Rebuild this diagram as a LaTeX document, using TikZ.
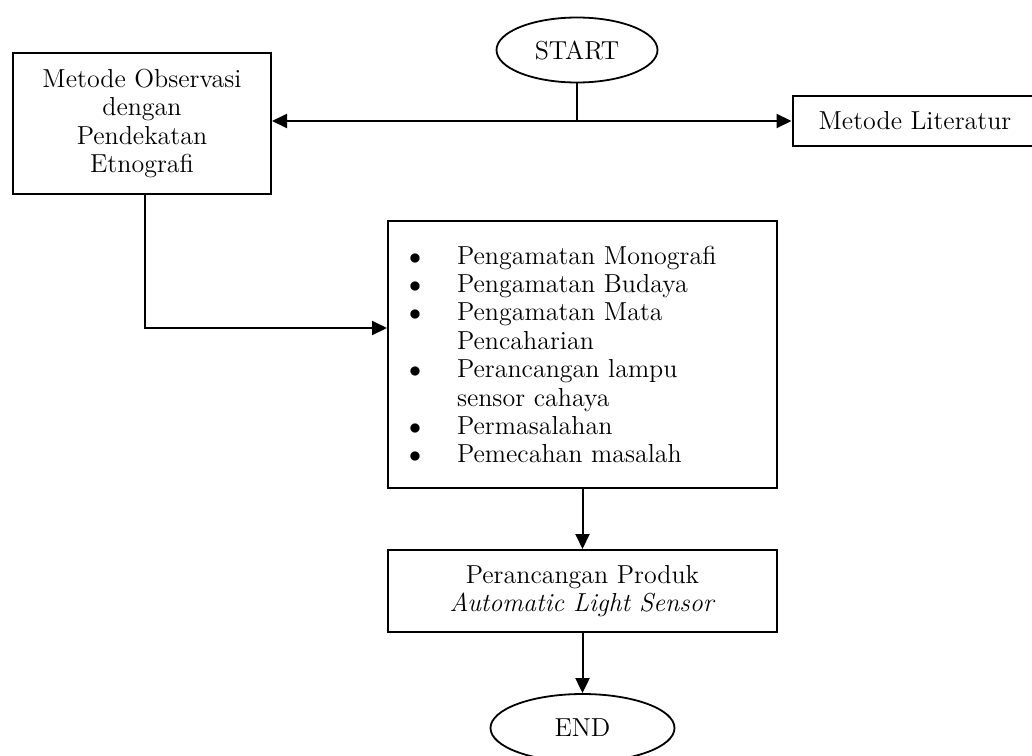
\documentclass[tikz,border=0pt,12pt]{standalone}
\usepackage{tikz}
\usetikzlibrary{arrows.meta,shapes.geometric}

\begin{document}
\begin{tikzpicture}[x=0.5pt, y=-0.5pt, line width=1pt,
  every node/.style={font=\fontsize{13}{14.2}\selectfont},
  box/.style={draw, rectangle, align=center, inner sep=0pt},
  oval/.style={draw, ellipse, line width=0.9pt, inner sep=0pt},
  arr/.style={-{Triangle[length=7.5pt, width=7pt]}}]
  \useasboundingbox (0,0) rectangle (1032,755);
  % start, end
  \node[oval, minimum width=80.5pt, minimum height=32.5pt] (start) at (577,50) {START};
  \node[oval, minimum width=92pt, minimum height=34pt] (end) at (582.5,728) {END};
  % boxes
  \node[box, minimum width=129pt, minimum height=70.5pt] (obs) at (142,123.5)
    {Metode Observasi\\dengan\\Pendekatan\\Etnografi};
  \node[box, minimum width=122.5pt, minimum height=25pt] (lit) at (915,121) {Metode Literatur};
  \node[box, align=left, text width=173.5pt, inner xsep=10.5pt, minimum height=133.5pt] (list) at (582.5,354.5)
    {\makebox[24pt][l]{$\bullet$}Pengamatan Monografi\\
     \makebox[24pt][l]{$\bullet$}Pengamatan Budaya\\
     \makebox[24pt][l]{$\bullet$}Pengamatan Mata\\
     \hspace*{24pt}Pencaharian\\
     \makebox[24pt][l]{$\bullet$}Perancangan lampu\\
     \hspace*{24pt}sensor cahaya\\
     \makebox[24pt][l]{$\bullet$}Permasalahan\\
     \makebox[24pt][l]{$\bullet$}Pemecahan masalah};
  \node[box, minimum width=194.5pt, minimum height=41pt] (prod) at (582.5,591)
    {Perancangan Produk\\\textit{Automatic Light Sensor}};
  % connectors
  \coordinate (split) at (start.south |- lit.west);
  \draw (start.south) -- (split);
  \draw[arr] (split) -- (obs.east |- split);
  \draw[arr] (split) -- (lit.west);
  \draw[arr] ([xshift=1.5pt]obs.south) |- ([yshift=13.25pt]list.west);
  \draw[arr] (list.south) -- (prod.north);
  \draw[arr] (prod.south) -- (end.north);
\end{tikzpicture}
\end{document}
